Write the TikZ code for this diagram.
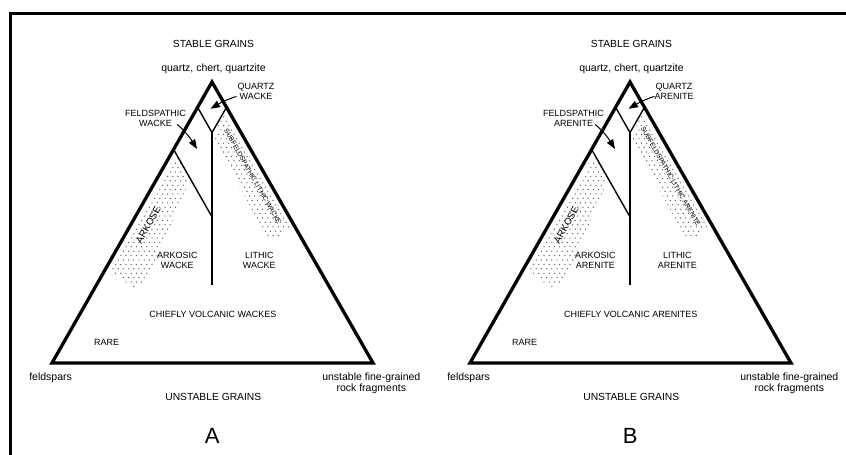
\documentclass[tikz,border=0pt]{standalone}
\usepackage{fontspec}
\setmainfont{Liberation Sans}
\usetikzlibrary{arrows.meta}

% stipple: #1,#2 origin, #3 columns, #4 rows (staggered grid)
\newcommand\stipple[4]{%
  \foreach \ii in {0,...,#4}{%
    \foreach \jj in {0,...,#3}{%
      \fill[dotfill] ({#1+5.2*\jj+2.6*mod(\ii,2)},{#2+4.4*\ii}) circle (0.65);}}}

% one ternary panel: #1 prefix, #2 class word, #3 plural, #4 letter, #5 shift
\newcommand\sandtri[5]{%
\begin{scope}[xshift=#5]
  \coordinate (#1-top) at (212,82);
  \coordinate (#1-left) at (52,363);
  \coordinate (#1-right) at (373,363);
  \coordinate (#1-ql) at (197.6,107.3);
  \coordinate (#1-qr) at (226.5,107.3);
  \coordinate (#1-qb) at (212,132.6);
  \coordinate (#1-fl) at (173.6,149.4);
  \coordinate (#1-fm) at (212,216.9);
  \coordinate (#1-vb) at (212,285);
  % stippled bands
  \begin{scope}
    \clip (176,154) -- (190.4,179) -- (148,278) -- (134,289) -- (110,270) -- cycle;
    \stipple{100}{150}{20}{32}
  \end{scope}
  \begin{scope}
    \clip (214.5,134) -- (214.5,142) -- (268,238) -- (276,239) -- (290,227) -- (224,114) -- cycle;
    \stipple{208}{108}{18}{31}
  \end{scope}
  % field boundaries
  \draw[divide] (#1-ql) -- (#1-qb) -- (#1-qr);
  \draw[divide] (#1-qb) -- (#1-vb);
  \draw[divide] (#1-fl) -- (#1-fm);
  \draw[outline] (#1-top) -- (#1-left) -- (#1-right) -- cycle;
  % labels
  \node[head] (#1-stable) at (213.5,47) {STABLE GRAINS};
  \node[mineral] (#1-qtz) at (213.5,71) {quartz, chert, quartzite};
  \node[field] (#1-qlab) at (256,91) {QUARTZ\\#2};
  \node[field] (#1-flab) at (155.5,118.2) {FELDSPATHIC\\#2};
  \node[field] (#1-aklab) at (177.3,260) {ARKOSIC\\#2};
  \node[field] (#1-lilab) at (259.3,260) {LITHIC\\#2};
  \node[field,anchor=base] (#1-vol) at (212.8,317.3) {CHIEFLY VOLCANIC #3};
  \node[field,anchor=base] (#1-rare) at (106.7,345.3) {RARE};
  \node[field,font=\fontsize{9.6}{10}\selectfont,rotate=60.3] (#1-ark) at (148.3,225) {ARKOSE};
  \node[field,font=\fontsize{6.7}{8}\selectfont,rotate=-60.2] (#1-sub) at (252.8,176.7) {SUBFELDSPATHIC LITHIC #2};
  \node[mineral] (#1-fsp) at (50.6,380) {feldspars};
  \node[mineral,anchor=center] (#1-rf) at (371.3,382.8) {unstable fine-grained\\rock fragments};
  \node[head] (#1-unstable) at (213.3,400.7) {UNSTABLE GRAINS};
  \node[letter] (#1-letter) at (212.3,443.3) {#4};
  % pointers into the small fields
  \coordinate (#1-qs) at (236.5,96.5);
  \coordinate (#1-qt) at (210.5,108.8);
  \coordinate (#1-fs) at (177,124.5);
  \coordinate (#1-ft) at (197,149);
  \draw[pointer] (#1-qs) .. controls (229,98.5) and (222,102) .. (#1-qt);
  \draw[pointer] (#1-fs) .. controls (182,128) and (189,136) .. (#1-ft);
\end{scope}}

\begin{document}
\begin{tikzpicture}[x=1pt,y=-1pt,
  outline/.style={line width=3.3pt,line join=miter},
  divide/.style={line width=1.4pt},
  framing/.style={line width=3pt,line join=miter},
  dotfill/.style={fill=black!72},
  pointer/.style={line width=1pt,-{Triangle[length=9.5pt,width=7pt]}},
  head/.style={inner sep=0pt,anchor=base,font=\fontsize{10.3}{11}\selectfont},
  mineral/.style={inner sep=0pt,anchor=base,align=center,font=\fontsize{10.5}{11}\selectfont},
  field/.style={inner sep=0pt,align=center,font=\fontsize{9}{10}\selectfont},
  letter/.style={inner sep=0pt,anchor=base,font=\fontsize{22}{24}\selectfont}]
  \useasboundingbox (0,0) rectangle (846,455);
  % outer frame (top and left edges)
  \coordinate (fr-bl) at (10.5,460);
  \coordinate (fr-tl) at (10.5,13.5);
  \coordinate (fr-tr) at (850,13.5);
  \draw[framing] (fr-bl) -- (fr-tl) -- (fr-tr);
  \sandtri{a}{WACKE}{WACKES}{A}{0pt}
  \sandtri{b}{ARENITE}{ARENITES}{B}{418pt}
\end{tikzpicture}
\end{document}
